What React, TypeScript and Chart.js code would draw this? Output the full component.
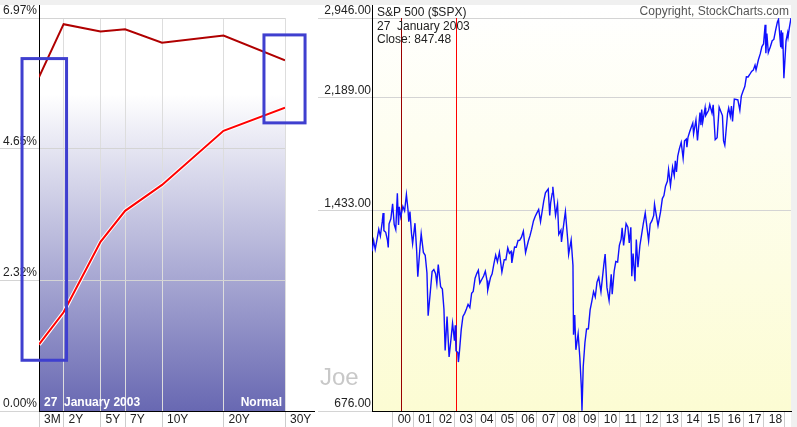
import React, { useEffect, useRef } from 'react';
import { Chart, registerables } from 'chart.js';

Chart.register(...registerables);

const FONT = "Arial, 'Liberation Sans', sans-serif";

// ---------- Yield curve (left) ----------
const maturityLabels = ['3M', '2Y', '5Y', '7Y', '10Y', '20Y', '30Y'];
const maturityAxisPos = [0, 2, 5, 7, 10, 15, 20];
const yieldsPrev = [5.92, 6.86, 6.73, 6.77, 6.53, 6.66, 6.22];
const yieldsCur = [1.18, 1.75, 3.0, 3.55, 4.01, 4.97, 5.38];
const yieldTicks = [0, 2.3233, 4.6467, 6.97];
const yieldTickLabels = ['0.00%', '2.32%', '4.65%', '6.97%'];
// annotation boxes: [xMin, xMax, yMin, yMax] in axis units
const boxA = [-1.38, 2.24, 0.9, 6.25];
const boxB = [18.29, 21.63, 5.11, 6.67];

// ---------- S&P 500 (right) ----------
const spxDates = [
  '1998-12-31', '1999-01-29', '1999-02-26', '1999-03-31', '1999-04-30', '1999-05-28', '1999-06-30', '1999-07-16', '1999-07-30', '1999-08-31', '1999-09-30', '1999-10-15', '1999-10-29', '1999-11-30', '1999-12-31',
  '2000-01-28', '2000-02-25', '2000-03-24', '2000-04-14', '2000-04-28', '2000-05-24', '2000-06-30', '2000-07-31', '2000-09-01', '2000-09-29', '2000-10-13', '2000-11-03', '2000-11-30', '2000-12-20',
  '2001-01-31', '2001-02-28', '2001-03-22', '2001-04-30', '2001-05-21', '2001-06-29', '2001-07-31', '2001-08-31', '2001-09-21', '2001-10-31', '2001-11-30', '2001-12-31',
  '2002-01-31', '2002-02-22', '2002-03-19', '2002-04-30', '2002-05-31', '2002-06-28', '2002-07-19', '2002-08-22', '2002-09-27', '2002-10-31', '2002-11-27', '2002-12-31',
  '2003-01-14', '2003-01-27', '2003-02-28', '2003-03-11', '2003-03-31', '2003-04-30', '2003-05-30', '2003-06-30', '2003-07-31', '2003-08-29', '2003-09-30', '2003-10-31', '2003-11-28', '2003-12-31',
  '2004-01-30', '2004-02-27', '2004-03-24', '2004-04-30', '2004-05-31', '2004-06-30', '2004-07-30', '2004-08-12', '2004-09-30', '2004-10-29', '2004-11-30', '2004-12-31',
  '2005-01-31', '2005-03-07', '2005-04-20', '2005-05-31', '2005-06-30', '2005-08-02', '2005-08-31', '2005-09-30', '2005-10-13', '2005-11-30', '2005-12-30',
  '2006-01-31', '2006-02-28', '2006-03-31', '2006-05-05', '2006-06-13', '2006-07-31', '2006-08-31', '2006-09-29', '2006-10-31', '2006-11-30', '2006-12-29',
  '2007-01-31', '2007-03-05', '2007-03-30', '2007-04-30', '2007-05-31', '2007-07-19', '2007-08-15', '2007-08-31', '2007-09-28', '2007-10-09', '2007-11-26', '2007-12-31',
  '2008-01-22', '2008-02-29', '2008-03-10', '2008-04-30', '2008-05-19', '2008-06-30', '2008-07-15', '2008-08-29', '2008-09-30', '2008-10-10', '2008-10-31', '2008-11-21', '2008-12-31',
  '2009-01-30', '2009-02-27', '2009-03-09', '2009-03-31', '2009-04-30', '2009-05-29', '2009-06-30', '2009-07-31', '2009-08-31', '2009-09-30', '2009-10-30', '2009-11-30', '2009-12-31',
  '2010-02-08', '2010-03-31', '2010-04-23', '2010-05-25', '2010-07-02', '2010-08-09', '2010-08-26', '2010-09-30', '2010-10-29', '2010-11-30', '2010-12-31',
  '2011-01-31', '2011-02-18', '2011-03-16', '2011-04-29', '2011-05-31', '2011-06-24', '2011-07-22', '2011-08-08', '2011-08-31', '2011-10-03', '2011-10-27', '2011-11-25', '2011-12-30',
  '2012-01-31', '2012-02-29', '2012-04-02', '2012-06-01', '2012-06-29', '2012-07-31', '2012-08-31', '2012-09-14', '2012-11-15', '2012-12-31',
  '2013-01-31', '2013-02-28', '2013-03-28', '2013-04-30', '2013-05-21', '2013-06-24', '2013-07-31', '2013-08-30', '2013-09-18', '2013-10-08', '2013-10-31', '2013-11-29', '2013-12-31',
  '2014-02-03', '2014-02-28', '2014-03-31', '2014-04-11', '2014-04-30', '2014-05-30', '2014-06-30', '2014-07-24', '2014-08-07', '2014-09-18', '2014-10-15', '2014-11-28', '2014-12-16', '2014-12-29',
  '2015-01-15', '2015-02-27', '2015-03-10', '2015-04-30', '2015-05-21', '2015-06-30', '2015-07-20', '2015-08-25', '2015-09-28', '2015-11-03', '2015-12-31',
  '2016-01-20', '2016-02-11', '2016-03-31', '2016-04-20', '2016-05-19', '2016-06-08', '2016-06-27', '2016-07-29', '2016-08-31', '2016-09-30', '2016-11-04', '2016-11-30', '2016-12-30',
  '2017-01-31', '2017-02-28', '2017-03-31', '2017-04-28', '2017-05-31', '2017-06-30', '2017-07-31', '2017-08-18', '2017-09-29', '2017-10-31', '2017-11-30', '2017-12-29',
  '2018-01-26', '2018-02-08', '2018-02-26', '2018-03-23', '2018-04-30', '2018-05-31', '2018-06-29', '2018-07-31', '2018-08-31', '2018-09-20', '2018-10-29', '2018-11-07', '2018-11-23', '2018-12-03', '2018-12-24',
  '2019-01-31', '2019-02-28', '2019-03-08', '2019-03-29', '2019-04-29',
];
const spxClose = [
  1229.2, 1279.6, 1238.3, 1286.4, 1335.2, 1301.8, 1372.7, 1418.8, 1328.7, 1320.4, 1282.7, 1247.4, 1362.9, 1388.9, 1469.3,
  1360.2, 1333.4, 1527.5, 1356.6, 1452.4, 1399.0, 1454.6, 1430.8, 1520.8, 1436.5, 1374.2, 1426.7, 1315.2, 1264.7,
  1366.0, 1239.9, 1117.6, 1249.5, 1312.8, 1224.4, 1211.2, 1133.6, 965.8, 1059.8, 1139.5, 1148.1,
  1130.2, 1089.8, 1170.3, 1076.9, 1067.1, 989.8, 847.8, 962.7, 827.4, 885.8, 938.9, 879.8,
  931.7, 847.5, 841.2, 812.0, 848.2, 916.9, 963.6, 974.5, 990.3, 1008.0, 996.0, 1050.7, 1058.2, 1111.9,
  1131.1, 1144.9, 1091.3, 1107.3, 1120.7, 1140.8, 1101.7, 1063.2, 1114.6, 1130.2, 1173.8, 1211.9,
  1181.3, 1225.3, 1137.5, 1191.5, 1191.3, 1245.0, 1220.3, 1228.8, 1176.8, 1249.5, 1248.3,
  1280.1, 1280.7, 1294.9, 1325.8, 1223.7, 1276.7, 1303.8, 1335.9, 1377.9, 1400.6, 1418.3,
  1438.2, 1374.1, 1420.9, 1482.4, 1530.6, 1553.1, 1406.7, 1474.0, 1526.8, 1565.2, 1407.2, 1468.4,
  1310.5, 1330.6, 1273.4, 1385.6, 1426.6, 1280.0, 1214.9, 1282.8, 1166.4, 899.2, 968.8, 850.0, 903.3,
  825.9, 735.1, 676.5, 797.9, 872.8, 919.1, 919.3, 987.5, 1020.6, 1057.1, 1036.2, 1095.6, 1115.1,
  1056.7, 1169.4, 1217.3, 1074.0, 1022.6, 1127.8, 1047.2, 1141.2, 1183.3, 1180.6, 1257.6,
  1286.1, 1343.0, 1256.9, 1363.6, 1345.2, 1268.5, 1345.0, 1119.5, 1218.9, 1099.2, 1284.6, 1158.7, 1257.6,
  1312.4, 1365.7, 1419.0, 1278.0, 1362.2, 1379.3, 1406.6, 1465.8, 1353.3, 1426.2,
  1498.1, 1514.7, 1569.2, 1597.6, 1669.2, 1573.1, 1685.7, 1633.0, 1725.5, 1655.5, 1756.5, 1805.8, 1848.4,
  1741.9, 1859.5, 1872.3, 1815.7, 1884.0, 1923.6, 1960.2, 1988.0, 1909.6, 2011.4, 1862.5, 2067.6, 1972.7, 2090.6,
  1992.7, 2104.5, 2044.2, 2085.5, 2130.8, 2063.1, 2128.3, 1867.6, 1881.8, 2109.8, 2043.9,
  1859.3, 1829.1, 2059.7, 2102.4, 2040.0, 2119.1, 2000.5, 2173.6, 2171.0, 2168.3, 2085.2, 2198.8, 2238.8,
  2278.9, 2363.6, 2362.7, 2384.2, 2411.8, 2423.4, 2470.3, 2425.6, 2519.4, 2575.3, 2647.6, 2673.6,
  2872.9, 2581.0, 2779.6, 2588.3, 2648.1, 2705.3, 2718.4, 2816.3, 2901.5, 2930.8, 2641.3, 2813.9, 2632.6, 2790.4, 2351.1,
  2704.1, 2784.5, 2743.1, 2834.4, 2945.8,
];
const spxTicks = [676, 1433, 2189, 2946];
const spxTickLabels = ['676.00', '1,433.00', '2,189.00', '2,946.00'];
const yearTicks = [2000, 2001, 2002, 2003, 2004, 2005, 2006, 2007, 2008, 2009, 2010, 2011, 2012, 2013, 2014, 2015, 2016, 2017, 2018, 2019];
const yearLabels = ['00', '01', '02', '03', '04', '05', '06', '07', '08', '09', '10', '11', '12', '13', '14', '15', '16', '17', '18', ''];
const markerPrevDate = '2000-05-26';
const markerCurDate = '2003-01-27';

function decYear(s: string): number {
  const [y, m, d] = s.split('-').map(Number);
  const t = Date.UTC(y, m - 1, d);
  const a = Date.UTC(y, 0, 1);
  const b = Date.UTC(y + 1, 0, 1);
  return y + (t - a) / (b - a);
}

const tickFont = { family: FONT, size: 12 };

function YieldChart() {
  const ref = useRef<HTMLCanvasElement | null>(null);
  useEffect(() => {
    if (!ref.current) return;
    const deco = {
      id: 'yieldDeco',
      beforeDraw(chart: any) {
        const { ctx, chartArea: a, width, height } = chart;
        ctx.save();
        ctx.fillStyle = '#ffffff';
        ctx.fillRect(0, 5, width, height - 5);
        const g = ctx.createLinearGradient(0, 5, 0, a.bottom);
        g.addColorStop(0, '#ffffff');
        g.addColorStop(0.22, '#ffffff');
        g.addColorStop(1, '#6868b2');
        ctx.fillStyle = g;
        ctx.fillRect(a.left, 5, a.right - a.left, a.bottom - 5);
        ctx.restore();
      },
      afterDraw(chart: any) {
        const { ctx, chartArea: a, width, scales } = chart;
        ctx.save();
        ctx.strokeStyle = '#000000';
        ctx.lineWidth = 1;
        ctx.beginPath();
        ctx.moveTo(Math.round(a.left) + 0.5, 5);
        ctx.lineTo(Math.round(a.left) + 0.5, a.top);
        ctx.moveTo(a.right, Math.round(a.bottom) + 0.5);
        ctx.lineTo(width - 1, Math.round(a.bottom) + 0.5);
        ctx.stroke();
        ctx.fillStyle = '#ffffff';
        ctx.font = `bold 12px ${FONT}`;
        ctx.textBaseline = 'alphabetic';
        ctx.textAlign = 'left';
        ctx.fillText('27  January 2003', a.left + 5, a.bottom - 5);
        ctx.textAlign = 'right';
        ctx.fillText('Normal', a.right - 3, a.bottom - 5);
        ctx.strokeStyle = '#3f3fcf';
        ctx.lineWidth = 3;
        for (const b of [boxA, boxB]) {
          const x1 = scales.x.getPixelForValue(b[0]);
          const x2 = scales.x.getPixelForValue(b[1]);
          const y1 = scales.y.getPixelForValue(b[3]);
          const y2 = scales.y.getPixelForValue(b[2]);
          ctx.strokeRect(x1, y1, x2 - x1, y2 - y1);
        }
        ctx.restore();
      },
    };
    // Chart.js draws dataset 0 on top, so the red curve comes first, its white halo next
    const chart = new Chart(ref.current, {
      type: 'line',
      data: {
        datasets: [
          {
            data: maturityAxisPos.map((x, i) => ({ x, y: yieldsCur[i] })),
            borderColor: '#ff0000',
            borderWidth: 2,
            pointRadius: 0,
            fill: false,
            tension: 0,
          },
          {
            data: maturityAxisPos.map((x, i) => ({ x, y: yieldsCur[i] })),
            borderColor: '#ffffff',
            borderWidth: 4,
            pointRadius: 0,
            fill: false,
            tension: 0,
          },
          {
            data: maturityAxisPos.map((x, i) => ({ x, y: yieldsPrev[i] })),
            borderColor: '#b00000',
            borderWidth: 2,
            pointRadius: 0,
            fill: false,
            tension: 0,
          },
        ],
      },
      options: {
        responsive: false,
        animation: false,
        events: [],
        layout: { padding: { left: 0, right: 31, top: 18, bottom: 0 } },
        plugins: { legend: { display: false }, tooltip: { enabled: false } },
        scales: {
          x: {
            type: 'linear',
            min: 0,
            max: 20,
            afterBuildTicks: (s: any) => {
              s.ticks = maturityAxisPos.map((v) => ({ value: v }));
            },
            afterFit: (s: any) => {
              s.height = 16;
              s.paddingLeft = 0;
              s.paddingRight = 0;
            },
            grid: { color: '#dddddd', tickColor: '#cccccc', tickLength: 16 },
            border: { color: '#000000', width: 1 },
            ticks: {
              autoSkip: false,
              maxRotation: 0,
              minRotation: 0,
              align: 'start',
              labelOffset: 5,
              padding: -15,
              color: '#222222',
              font: tickFont,
              callback: (v: any) => {
                const i = maturityAxisPos.indexOf(Number(v));
                return i >= 0 ? maturityLabels[i] : '';
              },
            },
          },
          y: {
            type: 'linear',
            min: 0,
            max: 6.97,
            afterBuildTicks: (s: any) => {
              s.ticks = yieldTicks.map((v) => ({ value: v }));
            },
            afterFit: (s: any) => {
              s.width = 39;
              s.paddingTop = 0;
              s.paddingBottom = 0;
            },
            grid: { color: '#d4d4d4', tickLength: 39 },
            border: { color: '#000000', width: 1 },
            ticks: {
              padding: -37,
              labelOffset: -7,
              color: '#222222',
              font: tickFont,
              callback: (v: any) => {
                const i = yieldTicks.indexOf(Number(v));
                return i >= 0 ? yieldTickLabels[i] : '';
              },
            },
          },
        },
      },
      plugins: [deco],
    } as any);
    return () => chart.destroy();
  }, []);
  return <canvas ref={ref} width={316} height={427} style={{ position: 'absolute', left: 0, top: 0, display: 'block' }} />;
}

function SpxChart() {
  const ref = useRef<HTMLCanvasElement | null>(null);
  useEffect(() => {
    if (!ref.current) return;
    const xs = spxDates.map(decYear);
    const deco = {
      id: 'spxDeco',
      beforeDraw(chart: any) {
        const { ctx, chartArea: a, height } = chart;
        ctx.save();
        ctx.fillStyle = '#ffffff';
        ctx.fillRect(0, 5, a.right, height - 5);
        const g = ctx.createLinearGradient(0, 5, 0, a.bottom);
        g.addColorStop(0, '#ffffff');
        g.addColorStop(1, '#fcfcd3');
        ctx.fillStyle = g;
        ctx.fillRect(a.left, 5, a.right - a.left, a.bottom - 5);
        ctx.restore();
      },
      beforeDatasetsDraw(chart: any) {
        const { ctx, chartArea: a, scales } = chart;
        ctx.save();
        ctx.lineWidth = 1;
        const top = scales.y.getPixelForValue(spxTicks[spxTicks.length - 1]);
        const marks: [string, string][] = [[markerPrevDate, '#990000'], [markerCurDate, '#ff0000']];
        for (const [d, c] of marks) {
          const x = Math.round(scales.x.getPixelForValue(decYear(d))) + 0.5;
          ctx.strokeStyle = c;
          ctx.beginPath();
          ctx.moveTo(x, top);
          ctx.lineTo(x, a.bottom);
          ctx.stroke();
        }
        ctx.restore();
      },
      afterDraw(chart: any) {
        const { ctx, chartArea: a } = chart;
        ctx.save();
        ctx.strokeStyle = '#000000';
        ctx.lineWidth = 1;
        ctx.beginPath();
        ctx.moveTo(Math.round(a.left) + 0.5, 5);
        ctx.lineTo(Math.round(a.left) + 0.5, a.top);
        ctx.stroke();
        ctx.font = `12px ${FONT}`;
        ctx.textBaseline = 'alphabetic';
        ctx.textAlign = 'left';
        ctx.fillStyle = '#222222';
        ctx.fillText('S&P 500 ($SPX)', a.left + 5, 15.5);
        ctx.fillText('27  January 2003', a.left + 5, 29.5);
        ctx.fillText('Close: 847.48', a.left + 5, 43);
        ctx.textAlign = 'right';
        ctx.fillStyle = '#555555';
        ctx.fillText('Copyright, StockCharts.com', a.right - 2, 15);
        ctx.textAlign = 'left';
        ctx.fillStyle = '#c8c8c8';
        ctx.font = `24px ${FONT}`;
        ctx.fillText('Joe', 4, 385);
        ctx.restore();
      },
    };
    const chart = new Chart(ref.current, {
      type: 'line',
      data: {
        datasets: [
          {
            data: xs.map((x, i) => ({ x, y: spxClose[i] })),
            borderColor: '#1010ff',
            borderWidth: 1.4,
            pointRadius: 0,
            fill: false,
            tension: 0,
          },
        ],
      },
      options: {
        responsive: false,
        animation: false,
        events: [],
        layout: { padding: { left: 0, right: 6, top: 18, bottom: 0 } },
        plugins: { legend: { display: false }, tooltip: { enabled: false } },
        scales: {
          x: {
            type: 'linear',
            min: xs[0],
            max: xs[xs.length - 1],
            afterBuildTicks: (s: any) => {
              s.ticks = yearTicks.map((v) => ({ value: v }));
            },
            afterFit: (s: any) => {
              s.height = 16;
              s.paddingLeft = 0;
              s.paddingRight = 0;
            },
            grid: { drawOnChartArea: false, color: '#cccccc', tickColor: '#cccccc', tickLength: 16 },
            border: { color: '#000000', width: 1 },
            ticks: {
              autoSkip: false,
              maxRotation: 0,
              minRotation: 0,
              align: 'start',
              labelOffset: 5,
              padding: -15,
              color: '#222222',
              font: tickFont,
              callback: (v: any) => {
                const i = yearTicks.indexOf(Number(v));
                return i >= 0 ? yearLabels[i] : '';
              },
            },
          },
          y: {
            type: 'logarithmic',
            min: spxTicks[0],
            max: spxTicks[spxTicks.length - 1],
            afterBuildTicks: (s: any) => {
              s.ticks = spxTicks.map((v) => ({ value: v }));
            },
            afterFit: (s: any) => {
              s.width = 56;
              s.paddingTop = 0;
              s.paddingBottom = 0;
            },
            grid: { color: '#d4d4d4', tickLength: 54 },
            border: { color: '#000000', width: 1 },
            ticks: {
              padding: -53,
              labelOffset: -7,
              color: '#222222',
              font: tickFont,
              callback: (v: any) => {
                const i = spxTicks.indexOf(Number(v));
                return i >= 0 ? spxTickLabels[i] : '';
              },
            },
          },
        },
      },
      plugins: [deco],
    } as any);
    return () => chart.destroy();
  }, []);
  return <canvas ref={ref} width={481} height={427} style={{ position: 'absolute', left: 316, top: 0, display: 'block' }} />;
}

export default function App() {
  useEffect(() => {
    document.body.style.margin = '0';
  }, []);
  return (
    <div style={{ position: 'fixed', left: 0, top: 0, width: 797, height: 427, background: '#f0f0f0', overflow: 'hidden' }}>
      <YieldChart />
      <SpxChart />
    </div>
  );
}
